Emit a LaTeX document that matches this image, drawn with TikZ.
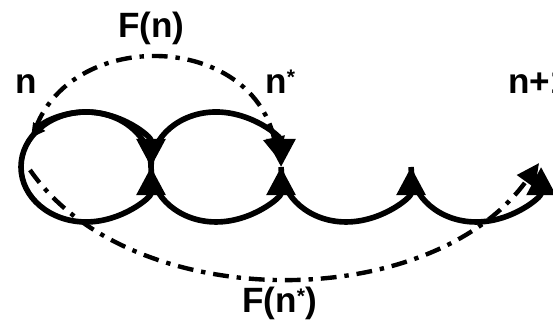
\documentclass[tikz,border=0pt]{standalone}
\usepackage{fontspec}
\setmainfont{Liberation Sans}
\usetikzlibrary{arrows.meta}

\tikzset{
  orbit/.style={line width=3.2pt},
  mapline/.style={line width=2.5pt, dash pattern=on 9pt off 4.5pt on 2.5pt off 4.5pt},
  label/.style={inner sep=0pt, anchor=base west, font=\fontsize{20}{24}\selectfont\bfseries},
  bigtip/.style={-{Triangle[length=16pt,width=16pt]}},
  smalltip/.style={-{Triangle[length=8pt,width=8pt]}}
}
\newcommand{\upstar}{\raisebox{5pt}{\fontsize{12}{12}\selectfont *}}

\begin{document}
\begin{tikzpicture}[scale=0.02]
\useasboundingbox (0,0) rectangle (553,320);
% junction points of the trajectory
\coordinate (j0) at (21,153);
\coordinate (j1) at (151,153);
\coordinate (j2) at (281,153);
\coordinate (j3) at (411,153);
\coordinate (j4) at (541,153);

% loops
\draw[orbit, bigtip] (j0) arc[start angle=180, end angle=0, x radius=65, y radius=55];
\draw[orbit, bigtip] (j0) arc[start angle=180, end angle=360, x radius=65, y radius=55];
\draw[orbit, smalltip] (j1) arc[start angle=0, end angle=148, x radius=65, y radius=55];
\draw[orbit, bigtip] (j1) arc[start angle=180, end angle=0, x radius=65, y radius=55];
\draw[orbit, bigtip] (j1) arc[start angle=180, end angle=360, x radius=65, y radius=55];
% bounces
\draw[orbit, bigtip] (j2) arc[start angle=180, end angle=360, x radius=65, y radius=55];
\draw[orbit, bigtip] (j3) arc[start angle=180, end angle=360, x radius=65, y radius=55];

% maps
\coordinate (fa) at (36,193);
\coordinate (fb) at (279,160);
\coordinate (ga) at (30,150);
\coordinate (gb) at (539,157);
\draw[mapline, -{Triangle[length=13pt,width=12pt]}] (fa) .. controls (75,292) and (250,287) .. (fb);
\draw[mapline, -{Triangle[length=13pt,width=12pt]}] (ga) .. controls (130,5) and (430,5) .. (gb);

% labels
\node[label] (n) at (15,227) {n};
\node[label] (nstar) at (265,227) {n\upstar};
\node[label] (nnext) at (508,227) {n+1};
\node[label] (Fn) at (118,283) {F(n)};
\node[label] (Fnstar) at (242,8) {F(n\upstar)};
\end{tikzpicture}
\end{document}
